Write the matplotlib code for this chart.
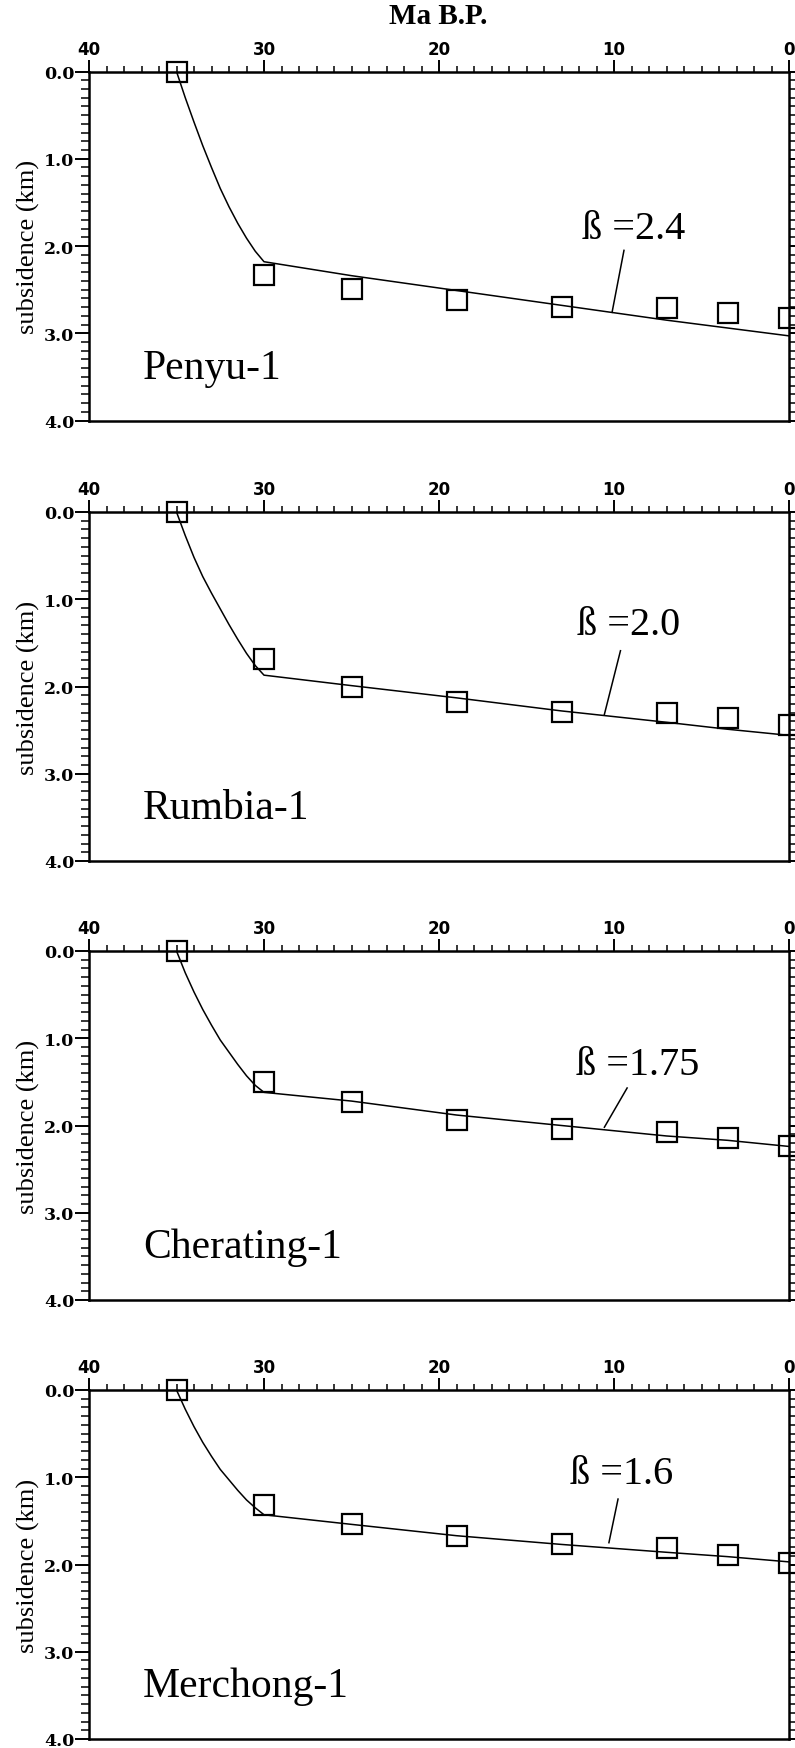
import numpy as np
import matplotlib.pyplot  as plt
import matplotlib.ticker  as mticker

# Wells and fitted stretching factors...
wells = ["Penyu-1", "Rumbia-1", "Cherating-1", "Merchong-1"]
betas = ["2.4", "2.0", "1.75", "1.6"]

# Backstripped subsidence (observed), age in Ma B.P. ...
obs_age = [35, 30, 25, 19, 13, 7, 3.5, 0]
penyu_obs     = [0.0, 2.33, 2.49, 2.62, 2.70, 2.71, 2.77, 2.83]
rumbia_obs    = [0.0, 1.69, 2.01, 2.18, 2.29, 2.30, 2.36, 2.44]
cherating_obs = [0.0, 1.50, 1.73, 1.94, 2.04, 2.07, 2.14, 2.23]
merchong_obs  = [0.0, 1.32, 1.54, 1.67, 1.76, 1.81, 1.89, 1.98]

# Model curves (syn-rift 35-30 Ma, then post-rift)...
model_age = [35, 34.5, 34, 33.5, 33, 32.5, 32, 31.5, 31, 30.5, 30, 25, 19, 13, 7, 3.5, 0]
penyu_model     = [0.0, 0.30, 0.58, 0.85, 1.10, 1.34, 1.55, 1.74, 1.91, 2.06, 2.18,
                   2.34, 2.51, 2.68, 2.85, 2.94, 3.03]
rumbia_model    = [0.0, 0.27, 0.52, 0.74, 0.93, 1.11, 1.29, 1.46, 1.62, 1.76, 1.87,
                   1.99, 2.13, 2.28, 2.41, 2.49, 2.56]
cherating_model = [0.0, 0.25, 0.47, 0.67, 0.85, 1.02, 1.16, 1.30, 1.43, 1.54, 1.62,
                   1.72, 1.88, 2.00, 2.12, 2.17, 2.24]
merchong_model  = [0.0, 0.22, 0.42, 0.60, 0.76, 0.91, 1.03, 1.15, 1.26, 1.35, 1.43,
                   1.54, 1.67, 1.77, 1.86, 1.91, 1.97]

obs_all   = [penyu_obs, rumbia_obs, cherating_obs, merchong_obs]
model_all = [penyu_model, rumbia_model, cherating_model, merchong_model]

# Where the beta labels and their leader lines sit (Ma, km)...
beta_pos    = [(11.8, 1.91), (12.1, 1.40), (12.2, 1.41), (12.5, 1.07)]
leader_pos  = [((9.43, 2.05), (10.11, 2.76)),
               ((9.63, 1.59), (10.55, 2.32)),
               ((9.25, 1.57), (10.55, 2.02)),
               ((9.77, 1.25), (10.29, 1.75))]

W, H = 795, 1749
fig = plt.figure(figsize = (W / 100, H / 100), dpi = 100)

panel_tops = [72.5, 513, 952, 1391]    # in pixels from top
ax_left, ax_width, ax_height = 89, 700, 349

serif = "Liberation Serif"

for i in range(4):
    top = panel_tops[i]
    ax = fig.add_axes([ax_left / W, 1 - (top + ax_height) / H, ax_width / W, ax_height / H])

    ax.plot(model_age, model_all[i], color = 'black', lw = 1.1, zorder = 2)
    ax.plot(obs_age, obs_all[i], ls = 'none', marker = 's', ms = 15, mew = 1.6,
            mfc = 'none', mec = 'black', zorder = 3, clip_on = False)

    ax.set_xlim(40, 0)
    ax.set_ylim(4, 0)

    # Ticks on top...
    ax.xaxis.tick_top()
    ax.xaxis.set_major_locator(mticker.MultipleLocator(10))
    ax.xaxis.set_minor_locator(mticker.MultipleLocator(1))
    ax.tick_params(axis = 'x', which = 'major', direction = 'out', length = 8.5, width = 1.4,
                   pad = 1.5, top = True, bottom = False, labeltop = True, labelbottom = False)
    ax.tick_params(axis = 'x', which = 'minor', direction = 'out', length = 4.5, width = 1.1,
                   top = True, bottom = False)
    ax.xaxis.set_major_formatter(mticker.FormatStrFormatter('%d'))
    for lb in ax.get_xticklabels():
        lb.set_fontfamily('DejaVu Sans'); lb.set_fontweight('bold'); lb.set_fontsize(12)

    # Ticks left and right...
    ax.yaxis.set_major_locator(mticker.MultipleLocator(1))
    ax.yaxis.set_minor_locator(mticker.MultipleLocator(0.1))
    ax.yaxis.set_major_formatter(mticker.FormatStrFormatter('%.1f'))
    ax.tick_params(axis = 'y', which = 'major', direction = 'out', length = 10, width = 1.4,
                   pad = 0.5, left = True, right = True, labelleft = True, labelright = False)
    ax.tick_params(axis = 'y', which = 'minor', direction = 'out', length = 5.5, width = 1.1,
                   left = True, right = True)
    for lb in ax.get_yticklabels():
        lb.set_fontfamily('DejaVu Serif'); lb.set_fontweight('bold'); lb.set_fontsize(12.5)

    for sp in ax.spines.values(): sp.set_linewidth(1.8)

    ax.text(-0.087, 0.5, "subsidence (km)", rotation = 90, transform = ax.transAxes,
            ha = 'center', va = 'center', fontsize = 19, family = serif)

    ax.text(0.077, 0.123, wells[i], transform = ax.transAxes, ha = 'left', va = 'baseline',
            fontsize = 30, family = serif)

    bx, by = beta_pos[i]
    ax.text(bx, by, "ß =" + betas[i], ha = 'left', va = 'baseline', fontsize = 29, family = serif)
    (x0, y0), (x1, y1) = leader_pos[i]
    ax.plot([x0, x1], [y0, y1], color = 'black', lw = 1.1)

fig.text(438 / W, 1 - 17 / H, "Ma B.P.", ha = 'center', va = 'center', fontsize = 21,
         fontweight = 'bold', family = serif)

plt.savefig("out.png", dpi = 100)
plt.close('all')
